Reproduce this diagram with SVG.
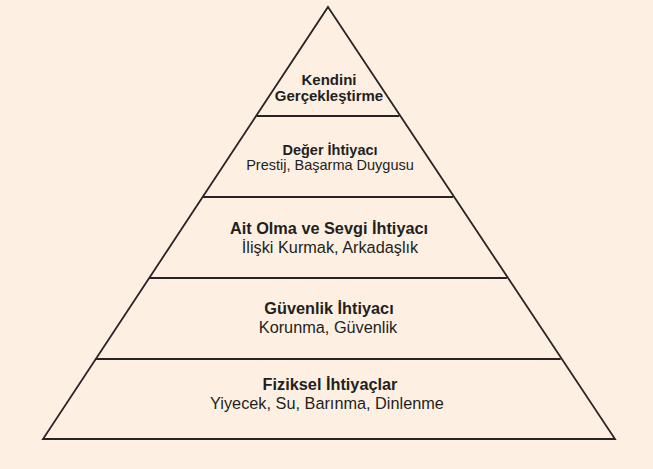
<svg xmlns="http://www.w3.org/2000/svg" width="653" height="469" viewBox="0 0 653 469">
<style>
.bg{fill:#fdf0e3}
.ln{stroke:#2a2325;stroke-width:1.8;fill:none;stroke-linejoin:miter}
text{font-family:"Liberation Sans",Arial,sans-serif;fill:#231f20;text-anchor:middle}
.b{font-weight:bold}
.s1{font-size:15px}
.s2{font-size:14.5px}
.s3{font-size:16.3px}
</style>
<rect class="bg" x="0" y="0" width="653" height="469"/>
<g id="connectors">
<polygon class="ln" points="328,7 615,439 43,439"/>
<line class="ln" x1="256.7" y1="116" x2="399.3" y2="116"/>
<line class="ln" x1="202.9" y1="197" x2="453.1" y2="197"/>
<line class="ln" x1="149.1" y1="278" x2="506.9" y2="278"/>
<line class="ln" x1="95.3" y1="359" x2="560.7" y2="359"/>
</g>
<g id="level5">
<text class="b s1" x="329" y="85">Kendini</text>
<text class="b s1" x="329" y="101">Gerçekleştirme</text>
</g>
<g id="level4">
<text class="b s2" x="330" y="155">Değer İhtiyacı</text>
<text class="s2" x="330" y="170">Prestij, Başarma Duygusu</text>
</g>
<g id="level3">
<text class="b s3" x="329" y="234">Ait Olma ve Sevgi İhtiyacı</text>
<text class="s3" x="330" y="253">İlişki Kurmak, Arkadaşlık</text>
</g>
<g id="level2">
<text class="b s3" x="329" y="314">Güvenlik İhtiyacı</text>
<text class="s3" x="328" y="333">Korunma, Güvenlik</text>
</g>
<g id="level1">
<text class="b s3" x="330" y="390">Fiziksel İhtiyaçlar</text>
<text class="s3" x="327" y="409">Yiyecek, Su, Barınma, Dinlenme</text>
</g>
</svg>
